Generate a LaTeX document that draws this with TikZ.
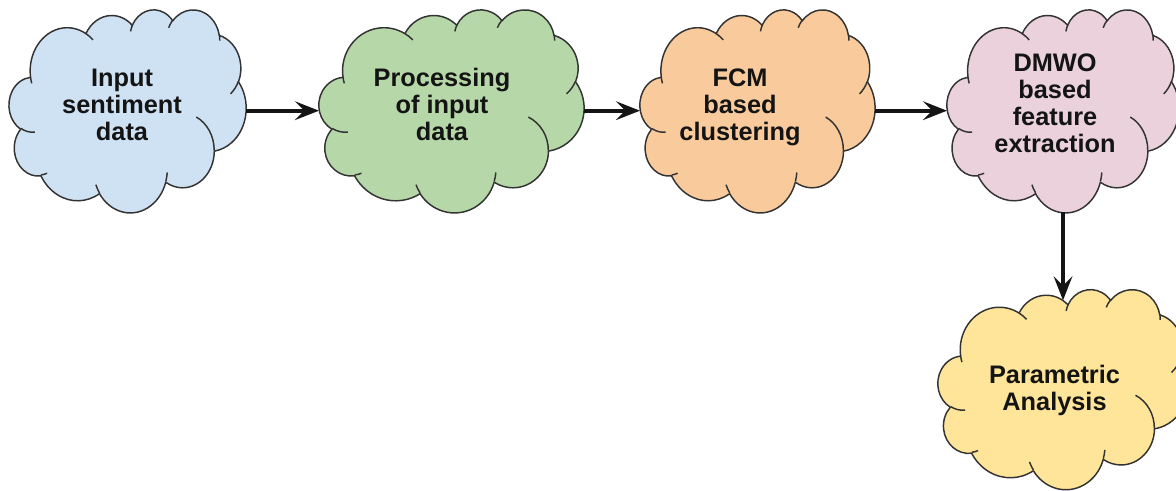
\documentclass[tikz,border=0pt]{standalone}
\usepackage{fontspec}
\setmainfont{Liberation Sans}
\usetikzlibrary{arrows.meta}

\definecolor{cBlue}{HTML}{CFE2F3}
\definecolor{cGreen}{HTML}{B6D7A8}
\definecolor{cOrange}{HTML}{F9CB9C}
\definecolor{cPink}{HTML}{EAD1DC}
\definecolor{cYellow}{HTML}{FFE599}
\definecolor{ink}{HTML}{141414}

\tikzset{
  % one elliptic arc of the puffy outline; angles are visual angles
  oo/.style n args={4}{x radius=#1, y radius=#2,
    start angle={vang(#3,#1,#2)}, delta angle={dang(#3,#4,#1,#2)}},
  cloudline/.style={draw=black!80, line width=1.1pt, line join=round},
  % puffy cloud of width #1 and height #2 (in px), filled with #3
  pics/puff/.style n args={3}{code={
    \begin{scope}[x=1cm, y=1cm, xscale={#1/1638.88}, yscale={-#2/1638.88}]
      \filldraw[cloudline, fill=#3] (-17.700,-7.230)
        arc[oo={6.753}{9.190}{-190.4875}{123.7805}]
        arc[oo={5.333}{7.267}{-144.1024}{89.9452}]
        arc[oo={4.365}{5.945}{-145.8079}{99.7230}]
        arc[oo={4.857}{6.595}{-130.9861}{117.2417}]
        arc[oo={5.333}{7.273}{-78.7089}{109.0269}]
        arc[oo={6.775}{9.220}{-46.2673}{130.2690}]
        arc[oo={5.785}{7.867}{0.6250}{114.0333}]
        arc[oo={6.752}{9.215}{22.4516}{115.1726}]
        arc[oo={7.720}{10.543}{66.2426}{75.7110}]
        arc[oo={4.360}{5.918}{-274.9421}{146.7356}]
        arc[oo={4.345}{5.945}{-246.8285}{152.5189}]
        -- cycle;
      \draw[cloudline]
        (-16.907,4.577) arc[oo={4.345}{5.945}{86.7420}{26.4295}]
        (-14.672,13.299) arc[oo={4.360}{5.918}{73.6105}{11.4475}]
        (-5.122,17.490) arc[oo={6.752}{9.215}{137.6242}{14.0811}]
        (7.227,13.151) arc[oo={6.752}{9.215}{6.4533}{15.9984}]
        (12.529,1.354) arc[oo={5.785}{7.867}{-70.2924}{70.9174}]
        (20.198,-6.246) arc[oo={5.333}{7.273}{30.3180}{27.7515}]
        (16.724,-16.174) arc[oo={4.857}{6.595}{-13.7443}{14.8589}]
        (7.478,-17.648) arc[oo={4.857}{6.595}{-149.1815}{18.1954}]
        (0.541,-16.880) arc[oo={4.365}{5.945}{-163.4943}{17.6864}]
        (-7.600,-16.408) arc[oo={6.753}{9.190}{-66.7070}{12.3194}]
        (-17.473,-5.811) arc[oo={6.753}{9.190}{157.6544}{11.8582}];
    \end{scope}
  }}
}

\begin{document}
\begin{tikzpicture}[x=0.75pt, y=-0.75pt,
  declare function={
    vang(\cA,\cW,\cH)=atan2(\cW*sin(\cA),\cH*cos(\cA));
    dang(\cA,\cS,\cW,\cH)=mod(vang(\cA+\cS,\cW,\cH)-vang(\cA,\cW,\cH)+720,360);
  },
  box/.style={rectangle, inner sep=0pt, outer sep=0pt},
  lbl/.style={font=\fontsize{19}{20.25}\selectfont\bfseries, text=ink,
    align=center, inner sep=0pt},
  flow/.style={line width=3pt, draw=ink,
    -{Stealth[length=18pt, width=14pt, inset=7pt]}}]
\useasboundingbox (0,0) rectangle (1176,491);

% cloud centres
\coordinate (p1) at (127.6,110.7);
\coordinate (p2) at (451.5,110.7);
\coordinate (p3) at (757.5,110.7);
\coordinate (p4) at (1063,110.7);
\coordinate (p5) at (1063,389);

% cloud outlines
\pic at (p1) {puff={237}{203}{cBlue}};
\pic at (p2) {puff={265}{203}{cGreen}};
\pic at (p3) {puff={235}{203}{cOrange}};
\pic at (p4) {puff={232}{203}{cPink}};
\pic at (p5) {puff={250}{200}{cYellow}};

% bounding boxes of the clouds, used as connector ends
\node[box, minimum width=177.75pt, minimum height=152.25pt] (c1) at (p1) {};
\node[box, minimum width=198.75pt, minimum height=152.25pt] (c2) at (p2) {};
\node[box, minimum width=176.25pt, minimum height=152.25pt] (c3) at (p3) {};
\node[box, minimum width=174pt,    minimum height=152.25pt] (c4) at (p4) {};
\node[box, minimum width=187.5pt,  minimum height=150pt]    (c5) at (p5) {};

% labels
\node[lbl] (t1) at (122,104.6) {Input\\sentiment\\data};
\node[lbl] (t2) at (442,104.6) {Processing\\of input\\data};
\node[lbl] (t3) at (740,107.2) {FCM\\based\\clustering};
\node[lbl] (t4) at (1055,103) {DMWO\\based\\feature\\extraction};
\node[lbl] (t5) at (1054.5,390.7) {Parametric\\Analysis};

% flow arrows
\draw[flow] (c1.east) -- (c2.west);
\draw[flow] (c2.east) -- (c3.west);
\draw[flow] (c3.east) -- (c4.west);
\draw[flow] (c4.south) -- ([yshift=-8.5pt]c5.north);
\end{tikzpicture}
\end{document}
